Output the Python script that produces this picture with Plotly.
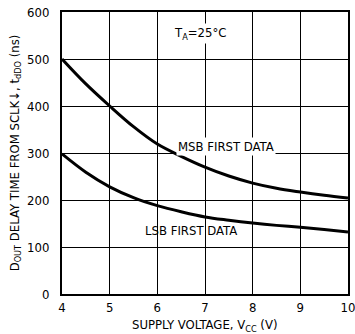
import plotly.graph_objects as go

vcc = [4, 4.5, 5, 5.5, 6, 6.5, 7, 7.5, 8, 8.5, 9, 9.5, 10]
msb = [500, 447, 400, 356, 319, 293, 270, 251, 236, 225, 217, 210, 204]
lsb = [298, 259, 228, 205, 188, 175, 164, 157, 151, 146, 142, 137, 132]
x_ticks = [4, 5, 6, 7, 8, 9, 10]
y_ticks = [0, 100, 200, 300, 400, 500, 600]

FONT = "DejaVu Sans Condensed, Liberation Sans Narrow, sans-serif"

fig = go.Figure()
fig.add_trace(go.Scatter(x=vcc, y=msb, mode="lines", line=dict(color="black", width=3, shape="spline"), showlegend=False))
fig.add_trace(go.Scatter(x=vcc, y=lsb, mode="lines", line=dict(color="black", width=3, shape="spline"), showlegend=False))

fig.add_annotation(x=6.9, y=555, text="T<sub>A</sub>=25°C", showarrow=False,
                   font=dict(family=FONT, size=13, color="black"), bgcolor="white")
fig.add_annotation(x=7.45, y=313, text="MSB FIRST DATA", showarrow=False,
                   font=dict(family=FONT, size=13, color="black"), bgcolor="white")
fig.add_annotation(x=6.70, y=136, text="LSB FIRST DATA", showarrow=False,
                   font=dict(family=FONT, size=13, color="black"))
fig.add_annotation(xref="paper", yref="paper", x=0.5, y=0, yshift=-31, yanchor="middle",
                   text="SUPPLY VOLTAGE, V<sub>CC</sub> (V)", showarrow=False,
                   font=dict(family=FONT, size=13, color="black"))

fig.update_layout(
    width=355, height=334,
    margin=dict(l=62, r=7, t=12, b=40, autoexpand=False),
    paper_bgcolor="white", plot_bgcolor="white",
    font=dict(family=FONT, size=13, color="black"),
)
fig.update_xaxes(range=[4, 10], tickvals=x_ticks, showgrid=True, gridcolor="black", gridwidth=1,
                 showline=True, linecolor="black", linewidth=2, mirror=True, zeroline=False,
                 ticks="", tickfont=dict(size=13), ticklabelstandoff=0, automargin=False,
                 ticklabeloverflow="allow")
fig.update_yaxes(range=[0, 600], tickvals=y_ticks, showgrid=True, gridcolor="black", gridwidth=1,
                 showline=True, linecolor="black", linewidth=2, mirror=True, zeroline=False,
                 ticks="", tickfont=dict(size=13), ticklabelstandoff=8, automargin=False,
                 ticklabeloverflow="allow",
                 title=dict(text="D<sub>OUT</sub> DELAY TIME FROM SCLK↓, t<sub>dDO</sub> (ns)", standoff=5, font=dict(size=13)))

fig.write_html("out.html", config={"displayModeBar": False},
               post_script="document.body.style.margin='0';")
